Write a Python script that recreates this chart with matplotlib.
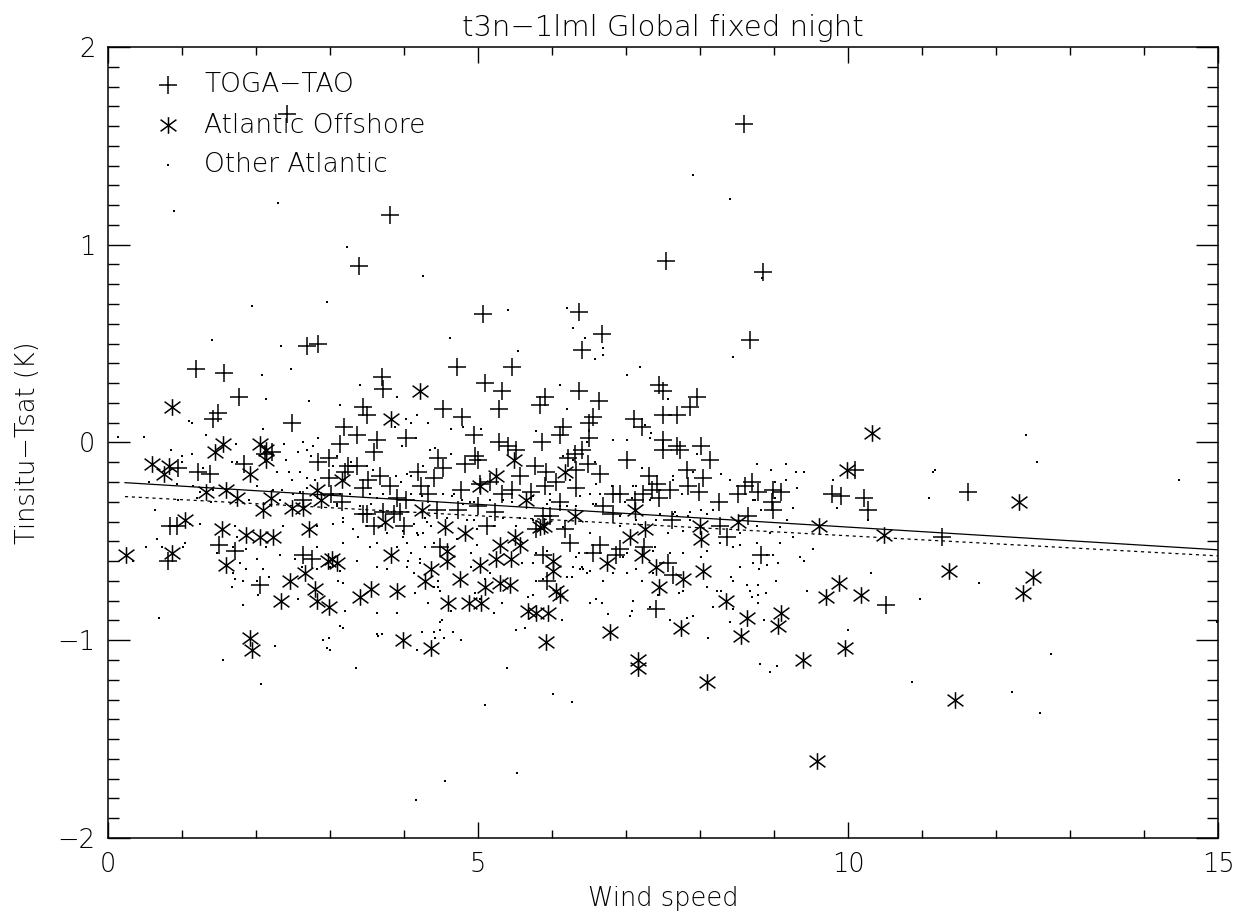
import matplotlib
matplotlib.use('Agg')
import matplotlib.pyplot as plt
from matplotlib.path import Path
import numpy as np

# TOGA-TAO buoys (wind speed, Tinsitu-Tsat)
toga = [
    (2.42, 1.66), (8.59, 1.61), (3.81, 1.15), (3.39, 0.89), (7.54, 0.92), (8.85, 0.86),
    (2.69, 0.49), (2.84, 0.50), (1.19, 0.37), (1.57, 0.35), (1.77, 0.23), (1.49, 0.15),
    (1.42, 0.12), (2.49, 0.10), (3.70, 0.33), (3.72, 0.27), (3.45, 0.18), (3.50, 0.14),
    (4.53, 0.17), (3.19, 0.08), (3.37, 0.04), (3.63, 0.01), (3.59, -0.05), (4.03, 0.02),
    (3.14, -0.01), (2.98, -0.08), (2.84, -0.10), (3.25, -0.12), (3.36, -0.12), (3.20, -0.15),
    (2.99, -0.18), (3.52, -0.19), (3.45, -0.23), (3.68, -0.17), (3.81, -0.22), (3.90, -0.28),
    (4.03, -0.29), (4.19, -0.15), (4.23, -0.22), (4.33, -0.26), (4.40, -0.18), (4.46, -0.08),
    (4.53, -0.13), (4.44, -0.34), (2.64, -0.29), (3.16, -0.30), (3.45, -0.36), (3.72, -0.35),
    (3.86, -0.36), (3.95, -0.35), (3.59, -0.42), (4.00, -0.42), (1.84, -0.11), (2.12, -0.06),
    (2.21, -0.05), (0.94, -0.13), (1.21, -0.15), (1.38, -0.16), (0.84, -0.42), (0.93, -0.42),
    (1.50, -0.52), (1.72, -0.55), (0.81, -0.60), (2.05, -0.72), (2.63, -0.57), (2.76, -0.59),
    (4.48, -0.53), (3.02, -0.26), (3.50, -0.36), (5.46, -0.24),
    (5.07, 0.65), (6.37, 0.66), (6.67, 0.55), (6.41, 0.47), (8.67, 0.52), (4.71, 0.38),
    (5.46, 0.38), (5.10, 0.30), (5.33, 0.26), (6.37, 0.26), (7.44, 0.29), (7.50, 0.26),
    (7.96, 0.23), (7.86, 0.18), (7.50, 0.14), (7.69, 0.14), (5.90, 0.23), (5.84, 0.19),
    (6.63, 0.21), (5.29, 0.17), (4.79, 0.13), (7.11, 0.12), (7.21, 0.08), (6.56, 0.13),
    (6.50, 0.10), (6.15, 0.08), (6.11, 0.04), (4.95, 0.04), (5.86, 0.00), (6.50, 0.02),
    (6.40, -0.04), (6.31, -0.06), (6.22, -0.08), (5.28, 0.00), (5.40, -0.02), (5.52, -0.04),
    (4.96, -0.07), (5.00, -0.09), (4.82, -0.11), (5.77, -0.12), (5.92, -0.15), (6.48, -0.11),
    (6.65, -0.16), (7.02, -0.09), (7.50, 0.01), (7.50, -0.04), (7.69, -0.02), (7.73, -0.04),
    (8.01, -0.02), (8.14, -0.09), (7.83, -0.14), (7.31, -0.17), (7.42, -0.21), (7.59, -0.24),
    (7.84, -0.22), (8.04, -0.18), (7.99, -0.25), (8.25, -0.30), (8.51, -0.26), (8.70, -0.20),
    (8.79, -0.25), (8.99, -0.24), (9.10, -0.25), (8.97, -0.30), (8.99, -0.34), (8.65, -0.37),
    (8.61, -0.22), (4.77, -0.24), (5.03, -0.21), (5.16, -0.20), (5.32, -0.26), (5.57, -0.17),
    (5.72, -0.25), (5.91, -0.22), (6.06, -0.20), (6.33, -0.23), (6.83, -0.26), (6.92, -0.26),
    (7.23, -0.26), (7.35, -0.24), (7.44, -0.28), (4.73, -0.34), (5.00, -0.32), (5.23, -0.35),
    (6.11, -0.30), (5.88, -0.37), (5.97, -0.37), (6.69, -0.32), (6.83, -0.36), (7.12, -0.29),
    (7.62, -0.39), (8.27, -0.42), (8.36, -0.48), (5.12, -0.42), (5.79, -0.44), (6.18, -0.44),
    (6.24, -0.51), (6.65, -0.52), (6.56, -0.56), (6.87, -0.57), (6.92, -0.54), (7.24, -0.53),
    (7.57, -0.61), (7.64, -0.67), (5.93, -0.70), (5.88, -0.57), (7.41, -0.84), (8.83, -0.57),
    (6.33, -0.14),
    (9.78, -0.26), (9.91, -0.27), (10.09, -0.14), (10.21, -0.28), (10.27, -0.34),
    (11.62, -0.25), (11.27, -0.48), (10.52, -0.82),
]

# Atlantic offshore stations
atl_off = [
    (0.86, 0.18), (4.22, 0.26), (3.83, 0.12), (1.56, -0.01), (1.45, -0.05), (2.05, -0.01),
    (2.13, -0.04), (2.13, -0.09), (0.59, -0.11), (0.82, -0.12), (0.76, -0.16), (1.92, -0.16),
    (1.33, -0.25), (1.60, -0.24), (1.74, -0.28), (2.20, -0.28), (2.10, -0.34), (2.48, -0.33),
    (2.63, -0.33), (2.83, -0.24), (2.88, -0.29), (3.16, -0.19), (1.04, -0.39), (1.54, -0.44),
    (1.86, -0.47), (2.05, -0.48), (2.23, -0.48), (2.72, -0.44), (0.87, -0.56), (0.24, -0.57),
    (1.60, -0.62), (2.46, -0.70), (2.66, -0.66), (2.80, -0.74), (2.82, -0.80), (2.99, -0.83),
    (2.34, -0.80), (2.97, -0.60), (3.03, -0.59), (3.10, -0.61), (3.41, -0.78), (3.55, -0.74),
    (3.90, -0.75), (3.83, -0.57), (3.74, -0.40), (4.24, -0.34), (4.28, -0.70), (4.37, -0.64),
    (4.55, -0.43), (4.58, -0.55), (4.58, -0.60), (4.60, -0.81), (1.92, -0.99), (1.94, -1.05),
    (3.98, -1.00), (4.36, -1.04),
    (5.48, -0.09), (6.18, -0.15), (5.25, -0.17), (5.03, -0.22), (5.65, -0.29), (6.31, -0.37),
    (7.12, -0.34), (5.84, -0.43), (5.89, -0.42), (4.82, -0.46), (5.50, -0.48), (5.57, -0.52),
    (5.30, -0.52), (7.26, -0.44), (7.05, -0.48), (8.00, -0.42), (8.01, -0.49), (8.52, -0.40),
    (5.03, -0.62), (5.24, -0.59), (5.45, -0.59), (4.76, -0.69), (5.09, -0.73), (5.30, -0.71),
    (5.43, -0.72), (6.02, -0.60), (6.02, -0.65), (6.05, -0.75), (6.11, -0.77), (6.74, -0.61),
    (7.21, -0.57), (7.41, -0.63), (7.45, -0.73), (7.77, -0.69), (8.04, -0.65), (8.35, -0.80),
    (8.64, -0.89), (8.55, -0.98), (9.09, -0.86), (9.06, -0.93), (4.88, -0.81), (5.04, -0.81),
    (5.68, -0.85), (5.79, -0.86), (5.94, -0.86), (6.78, -0.96), (5.92, -1.01), (7.74, -0.94),
    (7.16, -1.10), (7.16, -1.14), (8.09, -1.21),
    (10.33, 0.05), (9.99, -0.14), (12.31, -0.30), (9.61, -0.42), (10.49, -0.47),
    (11.37, -0.65), (12.50, -0.68), (12.37, -0.76), (9.88, -0.71), (9.70, -0.78),
    (10.18, -0.77), (9.96, -1.04), (9.39, -1.10), (11.45, -1.30), (9.58, -1.61),
]

# other Atlantic stations
atl_other = [
    (0.89, 1.17), (2.30, 1.21), (7.91, 1.35), (8.41, 1.23), (3.23, 0.99), (4.26, 0.84),
    (8.84, 0.83), (1.94, 0.69), (2.96, 0.71), (1.41, 0.52), (2.34, 0.49), (2.47, 0.37),
    (2.08, 0.34), (2.13, 0.22), (2.72, 0.21), (3.41, 0.29), (3.90, 0.23), (3.14, 0.19),
    (4.03, 0.12), (4.17, 0.14), (4.33, 0.10), (1.09, 0.11), (1.13, 0.10), (2.09, 0.07),
    (0.49, 0.03), (0.14, 0.03), (0.85, -0.04), (1.32, 0.04), (1.73, -0.01), (2.38, -0.01),
    (2.63, 0.00), (2.84, 0.02), (2.77, -0.02), (2.57, -0.05), (2.69, -0.04), (1.00, -0.10),
    (1.14, -0.06), (1.29, -0.13), (1.67, -0.10), (1.75, -0.10), (2.44, -0.15), (2.59, -0.15),
    (2.80, -0.19), (2.69, -0.18), (2.28, -0.15), (2.48, -0.19), (2.59, -0.25), (2.35, -0.24),
    (0.56, -0.20), (0.64, -0.34), (0.95, -0.29), (1.20, -0.28), (1.39, -0.30), (1.90, -0.29),
    (2.32, -0.29), (2.50, -0.26), (3.04, -0.26), (3.10, -0.32), (3.41, -0.32), (3.27, -0.26),
    (3.63, -0.28), (1.11, -0.41), (1.24, -0.41), (1.72, -0.42), (2.37, -0.42), (2.82, -0.42),
    (3.04, -0.41), (3.18, -0.40), (3.31, -0.44), (3.50, -0.42), (3.77, -0.46), (3.99, -0.45),
    (4.19, -0.47), (0.52, -0.53), (0.66, -0.49), (0.73, -0.53), (1.04, -0.51), (1.74, -0.48),
    (1.87, -0.54), (2.14, -0.53), (2.32, -0.57), (2.53, -0.59), (2.82, -0.53), (3.18, -0.51),
    (3.38, -0.48), (3.54, -0.53), (3.63, -0.51), (4.04, -0.51), (4.17, -0.46), (4.28, -0.53),
    (4.40, -0.51), (0.34, -0.60), (1.02, -0.53), (1.69, -0.53), (1.47, -0.56), (1.78, -0.61),
    (1.87, -0.64), (1.69, -0.66), (2.01, -0.59), (2.10, -0.64), (2.17, -0.68), (2.01, -0.70),
    (1.83, -0.70), (1.67, -0.73), (2.62, -0.63), (2.82, -0.64), (3.00, -0.63), (3.14, -0.65),
    (3.11, -0.70), (3.18, -0.71), (3.36, -0.60), (3.63, -0.63), (3.77, -0.64), (4.04, -0.63),
    (4.13, -0.66), (4.22, -0.61), (4.40, -0.73), (4.46, -0.73), (2.03, -0.77), (1.83, -0.82),
    (2.57, -0.79), (3.20, -0.85), (3.63, -0.86), (3.90, -0.86), (4.15, -0.76), (4.33, -0.81),
    (4.49, -0.91), (4.52, -0.90), (0.69, -0.89), (2.26, -1.03), (2.91, -1.00), (2.98, -0.99),
    (2.96, -1.04), (3.00, -1.05), (3.14, -0.93), (3.17, -0.94), (3.63, -0.97), (3.65, -0.98),
    (3.70, -0.97), (4.24, -0.96), (4.40, -0.96), (1.56, -1.10), (3.35, -1.14), (2.07, -1.22),
    (1.72, -0.69), (5.39, -1.14), (6.02, -1.27), (6.27, -1.31), (5.10, -1.33), (4.17, -1.05),
    (4.42, -0.99), (4.49, -0.95), (4.66, -0.96), (4.54, -0.99), (4.77, -1.00), (4.64, -0.85),
    (5.21, -0.86), (5.33, -0.81), (5.52, -0.95), (5.64, -0.94), (6.13, -0.90), (6.51, -0.81),
    (6.59, -0.79), (6.67, -0.81), (6.75, -0.87), (7.05, -0.88), (7.08, -0.85), (7.32, -0.83),
    (7.82, -0.89), (7.71, -0.76), (7.43, -0.77), (6.69, -0.70), (6.47, -0.66), (6.38, -0.64),
    (6.27, -0.68), (5.79, -0.70), (5.88, -0.69), (5.68, -0.78), (5.75, -0.77), (4.96, -0.76),
    (5.03, -0.79), (4.49, -0.75), (4.46, -0.70), (4.10, -0.56), (4.22, -0.59), (4.06, -0.60),
    (3.90, -0.53), (3.99, -0.48), (4.26, -0.46), (4.37, -0.42), (4.71, -0.49), (4.98, -0.52),
    (4.91, -0.56), (4.91, -0.63), (5.09, -0.69), (5.16, -0.66), (5.59, -0.61), (5.75, -0.61),
    (5.79, -0.56), (5.93, -0.55), (6.36, -0.56), (6.40, -0.63), (6.51, -0.65), (6.96, -0.58),
    (7.14, -0.64), (7.59, -0.56), (7.77, -0.56), (7.57, -0.46), (7.77, -0.45), (7.39, -0.53),
    (6.51, -0.46), (6.92, -0.42), (4.98, -0.44), (5.21, -0.42), (5.52, -0.42), (6.15, -0.43),
    (9.16, -0.11), (8.96, -0.14), (9.30, -0.15), (9.40, -0.15), (8.41, -0.19), (8.28, -0.16),
    (9.16, -0.19), (9.31, -0.23), (9.80, -0.19), (11.18, -0.14), (11.15, -0.15), (11.09, -0.28),
    (9.85, -0.33), (10.27, -0.39), (9.26, -0.33), (8.74, -0.29), (8.82, -0.34), (7.86, -0.39),
    (8.77, -0.42), (9.08, -0.43), (9.26, -0.48), (8.54, -0.52), (9.08, -0.51), (9.53, -0.54),
    (9.35, -0.58), (9.40, -0.60), (8.02, -0.58), (8.90, -0.57), (8.98, -0.57), (8.54, -0.63),
    (8.71, -0.61), (8.80, -0.64), (8.91, -0.62), (9.06, -0.61), (10.31, -0.66), (8.42, -0.68),
    (8.44, -0.70), (9.03, -0.70), (8.64, -0.72), (8.79, -0.72), (8.23, -0.75), (8.29, -0.75),
    (8.67, -0.75), (8.70, -0.78), (8.79, -0.77), (8.89, -0.76), (8.78, -0.81), (9.44, -0.75),
    (8.10, -0.73), (10.97, -0.79), (11.77, -0.71), (8.41, -0.91), (8.86, -0.90), (10.00, -0.95),
    (8.11, -0.99), (8.81, -1.12), (8.95, -1.16), (9.04, -1.13), (10.86, -1.21),
    (12.41, 0.04), (12.55, -0.10), (14.47, -0.19), (12.21, -1.26), (12.74, -1.07),
    (12.59, -1.37), (14.98, -0.91), (4.55, -1.71), (5.53, -1.67), (4.16, -1.81),
    (5.41, 0.67), (6.20, 0.68), (6.28, 0.58), (6.45, 0.53), (6.69, 0.48), (6.69, 0.44),
    (6.58, 0.42), (5.54, 0.46), (4.62, 0.53), (7.19, 0.38), (7.02, 0.34), (8.44, 0.43),
    (6.11, 0.29), (6.20, 0.17), (5.04, 0.07), (4.64, 0.07), (5.79, 0.06), (6.83, 0.01),
    (7.01, 0.01), (7.34, 0.05), (8.77, -0.11), (7.64, -0.19), (7.10, -0.22), (6.60, -0.21),
    (6.51, -0.26), (6.24, -0.19), (5.97, -0.26), (5.71, -0.28), (5.46, -0.30), (5.16, -0.29),
    (4.94, -0.30), (4.78, -0.29), (4.65, -0.27), (5.93, -0.31), (6.20, -0.32), (6.60, -0.31),
    (6.99, -0.30), (7.41, -0.39), (7.64, -0.36), (7.84, -0.37), (8.02, -0.34), (8.18, -0.34),
    (9.01, -0.28), (9.17, -0.39), (8.95, -0.46), (8.77, -0.51), (8.54, -0.46), (8.45, -0.53),
    (8.27, -0.51), (8.09, -0.55), (7.37, -0.55), (7.01, -0.56), (6.47, -0.56), (6.33, -0.58),
    (6.29, -0.63), (6.42, -0.64), (6.20, -0.68), (6.83, -0.66), (7.01, -0.66), (7.37, -0.66),
    (7.21, -0.70), (7.77, -0.75), (8.45, -0.84), (8.18, -0.83), (7.91, -0.88), (7.59, -0.90),
    (7.10, -0.80),
    (4.10, 0.10), (3.88, 0.08), (4.80, 0.08), (4.16, 0.02), (3.97, -0.02), (4.35, -0.04),
    (4.42, -0.03), (4.64, -0.06), (5.03, -0.09), (4.26, -0.12), (4.04, -0.16), (4.10, -0.17),
    (3.89, -0.17), (3.96, -0.20), (3.50, -0.12), (3.58, -0.14), (3.29, -0.10), (3.09, -0.07),
    (3.14, -0.26), (3.09, -0.31), (3.54, -0.26), (3.56, -0.31), (3.72, -0.26), (4.10, -0.26),
    (4.24, -0.27), (4.53, -0.26), (4.67, -0.26), (4.89, -0.30), (5.46, -0.26), (5.75, -0.27),
    (5.97, -0.29), (6.11, -0.32), (5.34, -0.29), (4.80, -0.31), (4.28, -0.38), (4.31, -0.40),
    (4.58, -0.38), (4.85, -0.39), (4.94, -0.39), (5.34, -0.38), (5.57, -0.38), (5.75, -0.39),
    (5.93, -0.41), (3.17, -0.38), (4.13, -0.41),
    (7.26, 0.09), (7.32, 0.02), (7.57, 0.22), (6.47, 0.00), (6.58, -0.10), (6.29, -0.09),
    (6.15, -0.07), (6.81, -0.22), (6.65, -0.26), (6.38, -0.27), (6.33, -0.32), (6.56, -0.31),
    (6.92, -0.37), (7.14, -0.39), (7.46, -0.36), (7.69, -0.37), (7.86, -0.35), (7.66, -0.35),
    (8.09, -0.36), (8.72, -0.29), (9.01, -0.20), (7.96, -0.06), (7.91, -0.15), (7.75, -0.26),
    (7.21, -0.13), (7.08, -0.28), (7.32, -0.29), (7.64, -0.17), (7.46, -0.24), (7.14, -0.22),
    (1.00, -0.07), (2.41, -0.09), (2.75, -0.07), (3.04, -0.12), (0.93, -0.21), (1.15, -0.22),
    (1.42, -0.24), (1.24, -0.25), (2.01, -0.22), (2.23, -0.24), (2.69, -0.23),
]

# linear fits: solid = all points, dashed = second fit
fit_range = [0.23, 15.0]
fit_solid = (-0.198, -0.0230)   # intercept, slope
fit_dashed = (-0.269, -0.0203)

title = 't3n\u22121lml Global fixed night'
xlabel = 'Wind speed'
ylabel = 'Tinsitu\u2212Tsat (K)'
legend_labels = ['TOGA\u2212TAO', 'Atlantic Offshore', 'Other Atlantic']

# IDL-style asterisk: vertical bar plus an X
star = Path([(0, -1), (0, 1), (-0.95, -0.7), (0.95, 0.7), (-0.95, 0.7), (0.95, -0.7)],
            [Path.MOVETO, Path.LINETO, Path.MOVETO, Path.LINETO, Path.MOVETO, Path.LINETO])

plt.rcParams['font.family'] = ['DejaVu Sans']
plt.rcParams['axes.linewidth'] = 1.1

fig = plt.figure(figsize=(12.57, 9.17), dpi=100)
ax = fig.add_axes([0.0859, 0.0862, 0.8831, 0.8626])

tx, ty = zip(*toga)
ax.plot(tx, ty, ls='none', marker='+', ms=12.5, mew=1.1, color='black')
ax_, ay_ = zip(*atl_off)
ax.plot(ax_, ay_, ls='none', marker=star, ms=12, mew=1.1, color='black')
ox, oy = zip(*atl_other)
ax.plot(ox, oy, ls='none', marker='s', ms=1.5, mew=0, color='black')

xf = np.array(fit_range)
ax.plot(xf, fit_solid[0] + fit_solid[1] * xf, color='black', lw=0.9)
ax.plot(xf, fit_dashed[0] + fit_dashed[1] * xf, color='black', lw=0.9, ls=(0, (2.5, 3)))

ax.set_xlim(0, 15)
ax.set_ylim(-2, 2)
ax.set_xticks([0, 5, 10, 15])
ax.set_xticks(np.arange(0, 16, 1), minor=True)
ax.set_yticks([-2, -1, 0, 1, 2])
ax.set_yticks(np.arange(-2, 2.01, 0.1), minor=True)
ax.tick_params(axis='x', which='major', direction='in', length=11.5, width=1.0,
               top=True, labelsize=18.5, pad=10)
ax.tick_params(axis='x', which='minor', direction='in', length=5.8, width=1.0, top=True)
ax.tick_params(axis='y', which='major', direction='in', length=16, width=1.0,
               right=True, labelsize=18.5, pad=9)
ax.tick_params(axis='y', which='minor', direction='in', length=8, width=1.0, right=True)
for lab in ax.get_xticklabels() + ax.get_yticklabels():
    lab.set_fontweight('light')

ax.set_title(title, fontsize=21, fontweight='light', pad=8)
ax.set_xlabel(xlabel, fontsize=18.5, fontweight='light')
ax.set_ylabel(ylabel, fontsize=18.5, fontweight='light')
ax.xaxis.set_label_coords(0.5, -0.061)
ax.yaxis.set_label_coords(-0.061, 0.5)

# hand-placed legend like the IDL plot
leg_y = [0.952, 0.901, 0.851]
ax.plot([0.054], [leg_y[0]], marker='+', ms=12.5, mew=1.1, color='black',
        transform=ax.transAxes, clip_on=False)
ax.plot([0.054], [leg_y[1]], marker=star, ms=12, mew=1.1, color='black',
        transform=ax.transAxes, clip_on=False)
ax.plot([0.054], [leg_y[2]], marker='s', ms=1.5, mew=0, color='black',
        transform=ax.transAxes, clip_on=False)
for yy, lab in zip(leg_y, legend_labels):
    ax.text(0.0865, yy, lab, transform=ax.transAxes, fontsize=19, fontweight='light',
            va='center', ha='left')

fig.savefig('out.png', dpi=100)
